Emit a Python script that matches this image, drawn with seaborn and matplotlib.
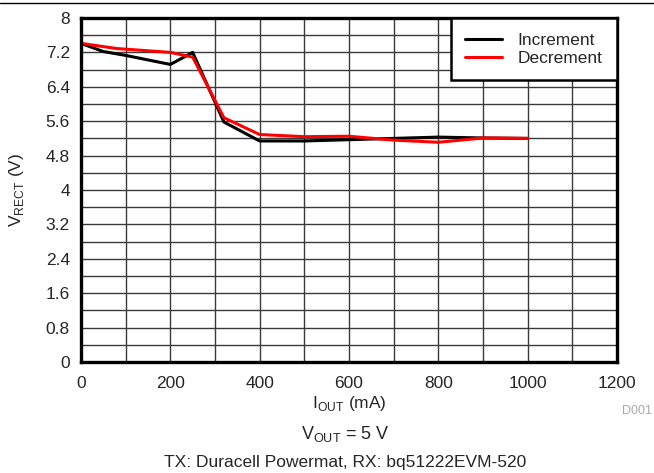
import pandas as pd
import numpy as np
import matplotlib
matplotlib.use("Agg")
import matplotlib.pyplot as plt
import seaborn as sns

# datos
iout_inc = [0, 50, 100, 200, 250, 320, 400, 500, 600, 700, 800, 900, 1000]
vrect_inc = [7.41, 7.22, 7.13, 6.92, 7.20, 5.58, 5.14, 5.14, 5.17, 5.20, 5.23, 5.21, 5.20]
iout_dec = [0, 80, 200, 250, 320, 400, 500, 600, 700, 800, 900, 1000]
vrect_dec = [7.41, 7.29, 7.20, 7.09, 5.68, 5.29, 5.24, 5.25, 5.16, 5.11, 5.21, 5.20]

yticks = [0, 0.8, 1.6, 2.4, 3.2, 4, 4.8, 5.6, 6.4, 7.2, 8]
ytick_labels = ["0", "0.8", "1.6", "2.4", "3.2", "4", "4.8", "5.6", "6.4", "7.2", "8"]
xticks = [0, 200, 400, 600, 800, 1000, 1200]

df = pd.concat([
    pd.DataFrame({"iout": iout_inc, "vrect": vrect_inc, "serie": "Increment"}),
    pd.DataFrame({"iout": iout_dec, "vrect": vrect_dec, "serie": "Decrement"}),
])

sns.set_style("white")
plt.rcParams['font.family'] = ['Liberation Sans', 'DejaVu Sans']

fig = plt.figure(figsize=(6.54, 4.73), dpi=100)
ax = fig.add_axes([81/654, 1-362/473, (617-81)/654, (362-18)/473])

sns.lineplot(data=df, x="iout", y="vrect", hue="serie", sort=False,
             palette={"Increment": "black", "Decrement": "#ff0000"},
             linewidth=2.2, ax=ax)

ax.set_xlim(0, 1200)
ax.set_ylim(0, 8)
ax.set_xticks(xticks)
ax.set_xticks(np.arange(0, 1201, 100), minor=True)
ax.set_yticks(yticks)
ax.set_yticklabels(ytick_labels)
ax.set_yticks(np.arange(0, 8.01, 0.4), minor=True)
ax.grid(True, which="both", color="#3a3a3a", linewidth=1)
ax.set_axisbelow(True)
ax.tick_params(axis="both", which="both", length=0, labelsize=12.5)
ax.tick_params(axis="y", pad=8)
ax.tick_params(axis="x", pad=10)
for s in ax.spines.values():
    s.set_linewidth(2.4)
    s.set_color("black")

ax.set_xlabel(r"I$_{\mathregular{OUT}}$ (mA)", fontsize=12.5, labelpad=2)
ax.set_ylabel(r"V$_{\mathregular{RECT}}$ (V)", fontsize=12.5, labelpad=14)

leg = ax.legend(loc="upper right", fontsize=12.5, frameon=True, fancybox=False,
                borderaxespad=0, handlelength=2.1, labelspacing=0.15,
                borderpad=0.85, handletextpad=0.9)
leg.get_frame().set_edgecolor("black")
leg.get_frame().set_linewidth(1.8)
leg.get_frame().set_alpha(1)
leg.set_title(None)

fig.add_artist(plt.Line2D([0, 1], [1-3/473, 1-3/473], color="black", linewidth=1))
fig.text(637/654, 1-411/473, "D001", color="#aaaaaa", fontsize=9, ha="center", va="center")
fig.text(345/654, 1-434/473, r"V$_{\mathregular{OUT}}$ = 5 V", fontsize=13, ha="center", va="center")
fig.text(345/654, 1-462/473, "TX: Duracell Powermat, RX: bq51222EVM-520", fontsize=12.5,
         ha="center", va="center")

fig.savefig("out.png", dpi=100)
